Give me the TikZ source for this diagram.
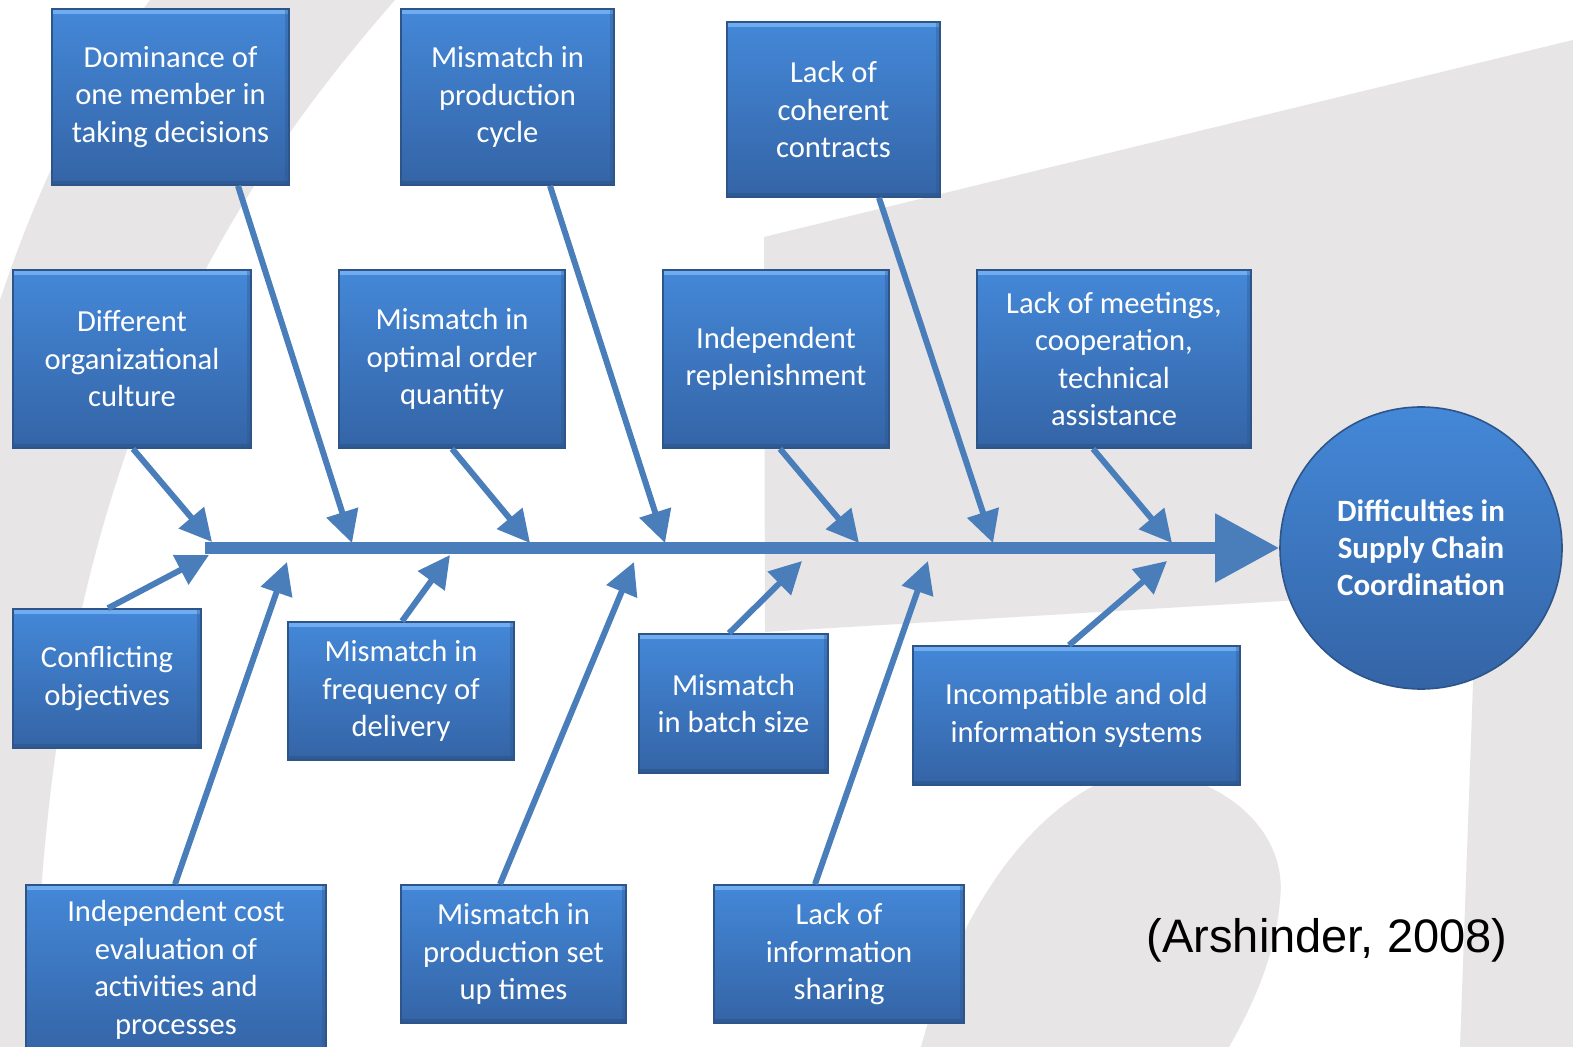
\documentclass[tikz,border=0pt]{standalone}
\usepackage{fontspec}
\setmainfont{Carlito}
\newfontfamily\citefont{Liberation Sans}
\usetikzlibrary{arrows.meta,calc}
\definecolor{boxtop}{RGB}{68,136,216}
\definecolor{boxbot}{RGB}{52,100,166}
\definecolor{boxedge}{RGB}{45,85,138}
\definecolor{boxhi}{RGB}{112,172,240}
\definecolor{arr}{RGB}{74,126,187}
\definecolor{wm}{RGB}{232,229,230}
\tikzset{
 cbox/.style={rectangle, inner sep=0pt, top color=boxtop, bottom color=boxbot,
   draw=boxedge, line width=0.8pt, text=white, align=center,
   font=\fontsize{15.3}{18.75}\selectfont,
   path picture={
     \fill[boxhi] (path picture bounding box.north west) rectangle ([yshift=-2.5pt]path picture bounding box.north east);
     \fill[boxedge,opacity=.6] ([yshift=2pt]path picture bounding box.south west) rectangle (path picture bounding box.south east);
     \fill[boxedge,opacity=.35] ([xshift=-2pt]path picture bounding box.north east) rectangle (path picture bounding box.south east);}},
 bone/.style={draw=arr, line width=3pt, -{Triangle[length=16pt,width=16pt]}},
 spine/.style={draw=arr, line width=6pt, -{Triangle[length=32pt,width=33pt]}},
 effect/.style={circle, inner sep=0pt, minimum size=141pt, top color=boxtop, bottom color=boxbot,
   draw=boxedge, line width=0.8pt, text=white, align=center,
   font=\bfseries\fontsize{15.5}{18.5}\selectfont},
 cite/.style={font=\citefont\fontsize{23.5}{27}\selectfont, text=black},
}
\begin{document}
\begin{tikzpicture}[x=0.5pt,y=-0.5pt]
\useasboundingbox (0,0) rectangle (1573,1047);
% background watermark
\fill[white] (0,0) rectangle (1573,1047);
\fill[wm] (150,0) -- (395,0) .. controls (220,200) and (40,480) .. (35,1047) -- (0,1047) -- (0,300) .. controls (40,180) and (90,80) .. (150,0) -- cycle;
\fill[wm] (764,237) -- (1573,40) -- (1573,1047) -- (1460,1047) -- (1476,600) -- (1300,600) -- (765,632) -- cycle;
\fill[wm] (921,1047) .. controls (960,900) and (1040,800) .. (1120,775) .. controls (1200,760) and (1290,820) .. (1280,900) .. controls (1275,960) and (1250,1010) .. (1229,1047) -- cycle;

% effect
\node[effect] (circ) at (1421,548) {Difficulties in\\Supply Chain\\Coordination};
\coordinate (tail) at (205,548);
\draw[spine] (tail) -- (circ.west);

% boxes
\node[cbox, minimum width=118.5pt, minimum height=88pt] (dom) at (170.5,97) {Dominance of\\one member in\\taking decisions};
\node[cbox, minimum width=106.5pt, minimum height=88pt] (cyc) at (507.5,97) {Mismatch in\\production\\cycle};
\node[cbox, minimum width=106.5pt, minimum height=87.5pt] (con) at (833.5,109.5) {Lack of\\coherent\\contracts};
\node[cbox, minimum width=119pt, minimum height=89pt] (cul) at (132,359) {Different\\organizational\\culture};
\node[cbox, minimum width=113pt, minimum height=89pt] (opt) at (452,359) {Mismatch in\\optimal order\\quantity};
\node[cbox, minimum width=113pt, minimum height=89pt] (rep) at (776,359) {Independent\\replenishment};
\node[cbox, minimum width=137pt, minimum height=89pt] (mtg) at (1114,359) {Lack of meetings,\\cooperation,\\technical\\assistance};
\node[cbox, minimum width=94pt, minimum height=69.5pt] (cnf) at (107,678.5) {Conflicting\\objectives};
\node[cbox, minimum width=113pt, minimum height=69pt] (frq) at (401,691) {Mismatch in\\frequency of\\delivery};
\node[cbox, minimum width=94.5pt, minimum height=69.5pt] (bat) at (733.5,703.5) {Mismatch\\in batch size};
\node[cbox, minimum width=163.5pt, minimum height=69.5pt] (inc) at (1076.5,715.5) {Incompatible and old\\information systems};
\node[cbox, minimum width=150pt, minimum height=85pt] (cst) at (176,970) {Independent cost\\evaluation of\\activities and\\processes};
\node[cbox, minimum width=112.5pt, minimum height=69pt] (set) at (513.5,954) {Mismatch in\\production set\\up times};
\node[cbox, minimum width=125pt, minimum height=69pt] (shr) at (839,954) {Lack of\\information\\sharing};

% tips on the spine
\coordinate (tdom) at (352,543);
\coordinate (tcyc) at (665,543);
\coordinate (tcon) at (993,543);
\coordinate (tcul) at (212,542);
\coordinate (topt) at (530,543);
\coordinate (trep) at (859,543);
\coordinate (tmtg) at (1172,543);
\coordinate (tcnf) at (209,555);
\coordinate (tfrq) at (450,555);
\coordinate (tbat) at (802,561);
\coordinate (tinc) at (1167,561);
\coordinate (tcst) at (287,562);
\coordinate (tset) at (634,562);
\coordinate (tshr) at (928,561);

% bones
\draw[bone] ($(dom.south)+(67.5,0)$) -- (tdom);
\draw[bone] ($(cyc.south)+(42.5,0)$) -- (tcyc);
\draw[bone] ($(con.south)+(45.5,0)$) -- (tcon);
\draw[bone] ($(cul.south)+(1,0)$) -- (tcul);
\draw[bone] (opt.south) -- (topt);
\draw[bone] ($(rep.south)+(4,0)$) -- (trep);
\draw[bone] ($(mtg.south)+(-21,0)$) -- (tmtg);
\draw[bone] ($(cnf.north)+(1,0)$) -- (tcnf);
\draw[bone] ($(frq.north)+(1,0)$) -- (tfrq);
\draw[bone] ($(bat.north)+(-4.5,0)$) -- (tbat);
\draw[bone] ($(inc.north)+(-7.5,0)$) -- (tinc);
\draw[bone] ($(cst.north)+(-1,0)$) -- (tcst);
\draw[bone] ($(set.north)+(-13.5,0)$) -- (tset);
\draw[bone] ($(shr.north)+(-24,0)$) -- (tshr);

\node[cite] (cite) at (1327,940) {(Arshinder, 2008)};
\end{tikzpicture}
\end{document}
